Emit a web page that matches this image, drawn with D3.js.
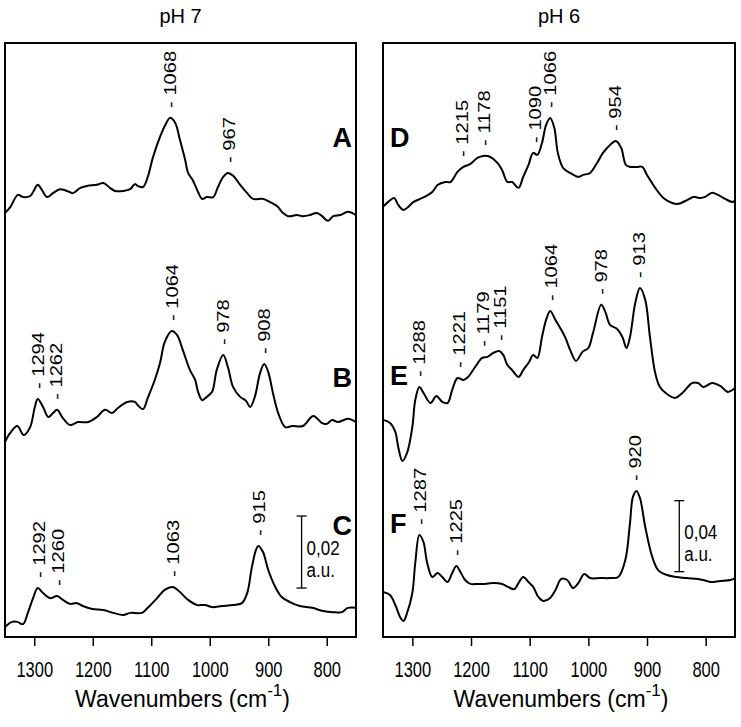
<!DOCTYPE html>
<html><head><meta charset="utf-8">
<script src="https://cdn.jsdelivr.net/npm/d3@7/dist/d3.min.js"></script>
<style>body{margin:0;background:#fff}svg{display:block}text{font-family:"Liberation Sans",Arial,sans-serif;fill:#000}</style>
</head><body><svg id="c" width="741" height="727"></svg>
<script>
// ---- data (absorbance in mAU, spectra stacked) ----
const panelTitles = ["pH 7", "pH 6"];
const xTicks = [1300, 1200, 1100, 1000, 900, 800];
const axisTitle = "Wavenumbers (cm";

const wnA = [1350,1341,1328,1319,1307,1302,1294,1287,1278,1268,1256,1244,1234,1222,1210,1193,1182,1170,1162,1148,1136,1128,1123,1114,1106,1097,1085,1076,1068,1059,1051,1042,1037,1029,1020,1013,1005,994,986,977,969,960,948,936,926,909,897,885,875,866,851,841,829,817,808,798,789,777,764,750];
const valA = [117.8,119.4,122.8,122.2,122.5,123.6,125.6,124.2,122.2,123.3,124.4,123.9,123.3,124.7,125.3,125.6,126.1,124.7,123.9,123.9,124.4,125.8,125.3,125.0,127.8,133.3,138.9,142.2,144.2,142.8,138.1,132.5,128.9,126.9,123.6,121.7,122.2,122.2,125.0,127.8,128.9,128.1,125.6,123.3,121.7,121.7,120.8,119.7,117.8,116.9,117.2,116.9,117.2,117.8,116.9,115.6,116.9,117.2,118.1,117.2];

const wnB = [1350,1341,1329,1318,1307,1299,1294,1285,1276,1268,1261,1251,1239,1225,1208,1193,1179,1167,1157,1141,1128,1123,1114,1106,1094,1085,1077,1065,1056,1046,1034,1025,1020,1013,1005,996,988,977,969,960,948,938,931,923,914,907,900,892,883,871,859,841,823,808,800,791,781,764,750];
const valB = [54.2,56.7,58.6,56.1,58.3,63.9,66.1,63.9,61.1,62.2,63.1,60.8,58.9,59.7,59.7,61.1,63.1,62.2,63.6,65.3,65.3,64.4,63.3,66.4,71.4,76.1,81.9,85.0,83.9,79.7,74.2,71.4,68.1,65.8,66.7,68.1,74.2,78.3,75.0,69.4,66.7,65.6,63.9,66.7,73.3,75.8,73.6,67.8,62.2,58.3,58.6,58.6,61.4,59.4,59.2,60.3,59.7,60.6,59.7];

const wnC = [1350,1338,1329,1319,1311,1302,1294,1285,1273,1261,1251,1239,1227,1217,1201,1182,1165,1148,1136,1116,1106,1090,1077,1063,1051,1037,1022,1008,996,979,960,945,936,928,921,917,909,900,888,877,863,846,825,806,789,774,764,750];
const valC = [2.8,4.2,4.2,3.6,6.7,10.8,13.6,12.2,10.8,11.4,10.3,9.2,9.4,8.6,7.8,7.5,6.7,6.1,6.7,6.7,8.1,10.8,13.1,13.9,12.5,10.3,8.9,8.9,8.3,8.6,8.9,9.4,12.2,19.4,24.2,25.3,23.6,18.6,13.9,11.1,9.7,8.6,8.1,7.2,6.9,6.9,8.1,8.1];

const wnD = [1350,1341,1331,1324,1315,1307,1298,1283,1266,1257,1244,1235,1223,1213,1201,1189,1179,1167,1155,1147,1138,1130,1119,1111,1102,1094,1087,1079,1072,1065,1058,1052,1043,1031,1017,1009,997,985,975,963,953,944,936,929,917,908,900,886,872,857,847,831,821,809,801,789,779,767,755,750];
const valD = [242.3,245.1,247.3,243.4,240.6,242.3,245.1,247.3,250.7,254.6,256.3,256.3,262.0,264.8,266.5,269.9,271.0,270.4,267.1,263.1,256.3,256.3,253.0,259.2,265.9,272.7,271.6,278.3,288.5,292.4,286.8,272.7,264.2,261.4,259.2,260.3,261.4,267.1,272.7,277.2,279.4,275.5,265.9,264.8,264.8,264.8,260.3,253.0,247.3,244.5,244.0,246.2,247.9,247.3,247.9,250.2,249.0,246.8,245.1,245.6];

const wnE = [1350,1338,1329,1324,1317,1309,1300,1295,1288,1281,1269,1259,1249,1240,1232,1223,1213,1205,1193,1181,1172,1162,1152,1145,1138,1130,1119,1111,1101,1094,1087,1079,1072,1065,1056,1048,1039,1031,1021,1010,1000,992,978,971,963,951,942,935,929,920,912,903,895,886,878,866,852,838,823,813,804,789,775,762,750];
const valE = [122.3,120.6,115.5,107.0,99.2,103.7,118.3,133.5,140.8,137.5,131.8,135.8,132.4,131.8,139.2,145.9,144.8,146.5,152.1,157.2,157.8,160.0,161.1,158.9,153.2,150.4,146.5,150.4,154.9,158.9,157.2,169.0,178.6,183.7,178.6,174.1,168.5,161.7,155.5,160.6,162.8,171.3,187.1,183.1,175.8,173.5,169.0,162.8,169.0,188.2,196.6,189.9,169.0,148.7,140.8,136.9,134.7,138.0,143.1,143.1,140.8,143.1,141.4,138.0,140.3];

const wnF = [1350,1338,1329,1320,1315,1309,1300,1295,1288,1281,1275,1266,1257,1249,1240,1232,1225,1218,1210,1201,1188,1176,1164,1147,1137,1126,1119,1111,1102,1094,1085,1077,1065,1056,1046,1036,1026,1017,1007,997,980,963,949,937,929,924,918,912,903,891,881,866,849,832,813,804,792,775,758,750];
const valF = [25.4,23.7,18.0,10.7,9.0,13.5,24.8,41.7,57.5,53.5,42.3,33.8,36.1,33.8,31.0,36.1,40.0,36.6,32.1,29.9,29.9,29.9,30.4,29.9,28.2,27.0,30.4,33.8,31.0,28.2,22.5,20.3,22.0,26.5,32.7,32.1,27.6,30.4,35.5,33.2,33.2,33.2,33.8,43.4,64.2,78.9,82.3,78.3,62.0,45.1,37.7,34.9,33.8,33.2,32.7,32.1,31.0,31.6,32.1,33.2];

const peaksA = [1068, 967];
const peaksB = [1294, 1262, 1064, 978, 908];
const peaksC = [1292, 1260, 1063, 915];
const peaksD = [1215, 1178, 1090, 1066, 954];
const peaksE = [1288, 1221, 1179, 1151, 1064, 978, 913];
const peaksF = [1287, 1225, 920];

const panelLetters = [["A","B","C"],["D","E","F"]];
const scaleBars = [20, 40];      // mAU
const scaleLabels = ["0,02", "0,04"];
const yMax = [165, 334.6];       // mAU span of each panel

// ---- drawing ----
const svg = d3.select("#c");
const panels = [
  {x0:5, x1:356, spectra:[[wnA,valA,peaksA],[wnB,valB,peaksB],[wnC,valC,peaksC]], letterSide:"right", letterY:[137,377,525], barWn:843, barBase:13.6},
  {x0:383, x1:735, spectra:[[wnD,valD,peaksD],[wnE,valE,peaksE],[wnF,valF,peaksF]], letterSide:"left", letterY:[137,375,523], barWn:845, barBase:36.8}
];
const yTop = 43, yBot = 637;

panels.forEach((p, pi) => {
  const x = d3.scaleLinear().domain([1350, 750]).range([p.x0, p.x1]);
  const y = d3.scaleLinear().domain([0, yMax[pi]]).range([yBot, yTop]);
  const g = svg.append("g");
  const line = d3.line().x(d => x(d[0])).y(d => y(d[1])).curve(d3.curveCatmullRom.alpha(0.5));

  p.spectra.forEach(([wn, val, peaks], si) => {
    const pts = wn.map((w, i) => [w, val[i]]);
    g.append("path").datum(pts).attr("d", line)
      .attr("fill", "none").attr("stroke", "#000").attr("stroke-width", 2).attr("stroke-linejoin", "round");
    peaks.forEach(pk => {
      const near = pts.filter(d => Math.abs(d[0] - pk) <= 7);
      const top = d3.max(near, d => d[1]);
      const px = x(pk), py = y(top) - 10;
      g.append("text").attr("transform", `translate(${px},${py}) rotate(-90) scale(1.22,1)`)
        .attr("dy", "0.36em").attr("font-size", 16.5).text("- " + pk);
    });
    const ly = p.letterY[si];
    g.append("text").attr("x", p.letterSide === "right" ? p.x1 - 4 : p.x0 + 7)
      .attr("y", ly + 9.5).attr("text-anchor", p.letterSide === "right" ? "end" : "start")
      .attr("font-size", 27).attr("font-weight", "bold").text(panelLetters[pi][si]);
  });

  // scale bar
  const bx = x(p.barWn), b0 = y(p.barBase), b1 = y(p.barBase + scaleBars[pi]);
  g.append("line").attr("x1", bx).attr("x2", bx).attr("y1", b0).attr("y2", b1).attr("stroke", "#000").attr("stroke-width", 1.3);
  [b0, b1].forEach(v => g.append("line").attr("x1", bx - 5).attr("x2", bx + 5).attr("y1", v).attr("y2", v).attr("stroke", "#000").attr("stroke-width", 1.3));
  const mid = (b0 + b1) / 2;
  g.append("text").attr("transform", `translate(${bx + 5},${mid + 3}) scale(1,1.15)`).attr("font-size", 17).text(scaleLabels[pi]);
  g.append("text").attr("transform", `translate(${bx + 5},${mid + 25}) scale(1,1.15)`).attr("font-size", 17).text("a.u.");

  // frame
  g.append("rect").attr("x", p.x0).attr("y", yTop).attr("width", p.x1 - p.x0).attr("height", yBot - yTop)
    .attr("fill", "none").attr("stroke", "#000").attr("stroke-width", 2);

  // axis
  const ax = g.append("g").attr("transform", `translate(0,${yBot})`)
    .call(d3.axisBottom(x).tickValues(xTicks).tickSize(9).tickPadding(16).tickSizeOuter(0).tickFormat(d3.format("d")));
  ax.select(".domain").remove();
  ax.selectAll("line").attr("stroke-width", 1.5);
  ax.selectAll("text").attr("y", 0).attr("dy", 0).attr("transform", "translate(0,40) scale(1,1.3)")
    .attr("font-size", 16.5).attr("font-family", '"Liberation Sans",Arial,sans-serif').attr("fill", "#000");

  const cx = (p.x0 + p.x1) / 2;
  const t = g.append("text").attr("x", cx + 2).attr("y", 707).attr("text-anchor", "middle").attr("font-size", 23);
  t.append("tspan").text(axisTitle);
  t.append("tspan").attr("dy", -11).attr("font-size", 17).text("-1");
  t.append("tspan").attr("dy", 11).text(")");

  g.append("text").attr("x", cx).attr("y", 23).attr("text-anchor", "middle").attr("font-size", 20).text(panelTitles[pi]);
});
</script></body></html>
